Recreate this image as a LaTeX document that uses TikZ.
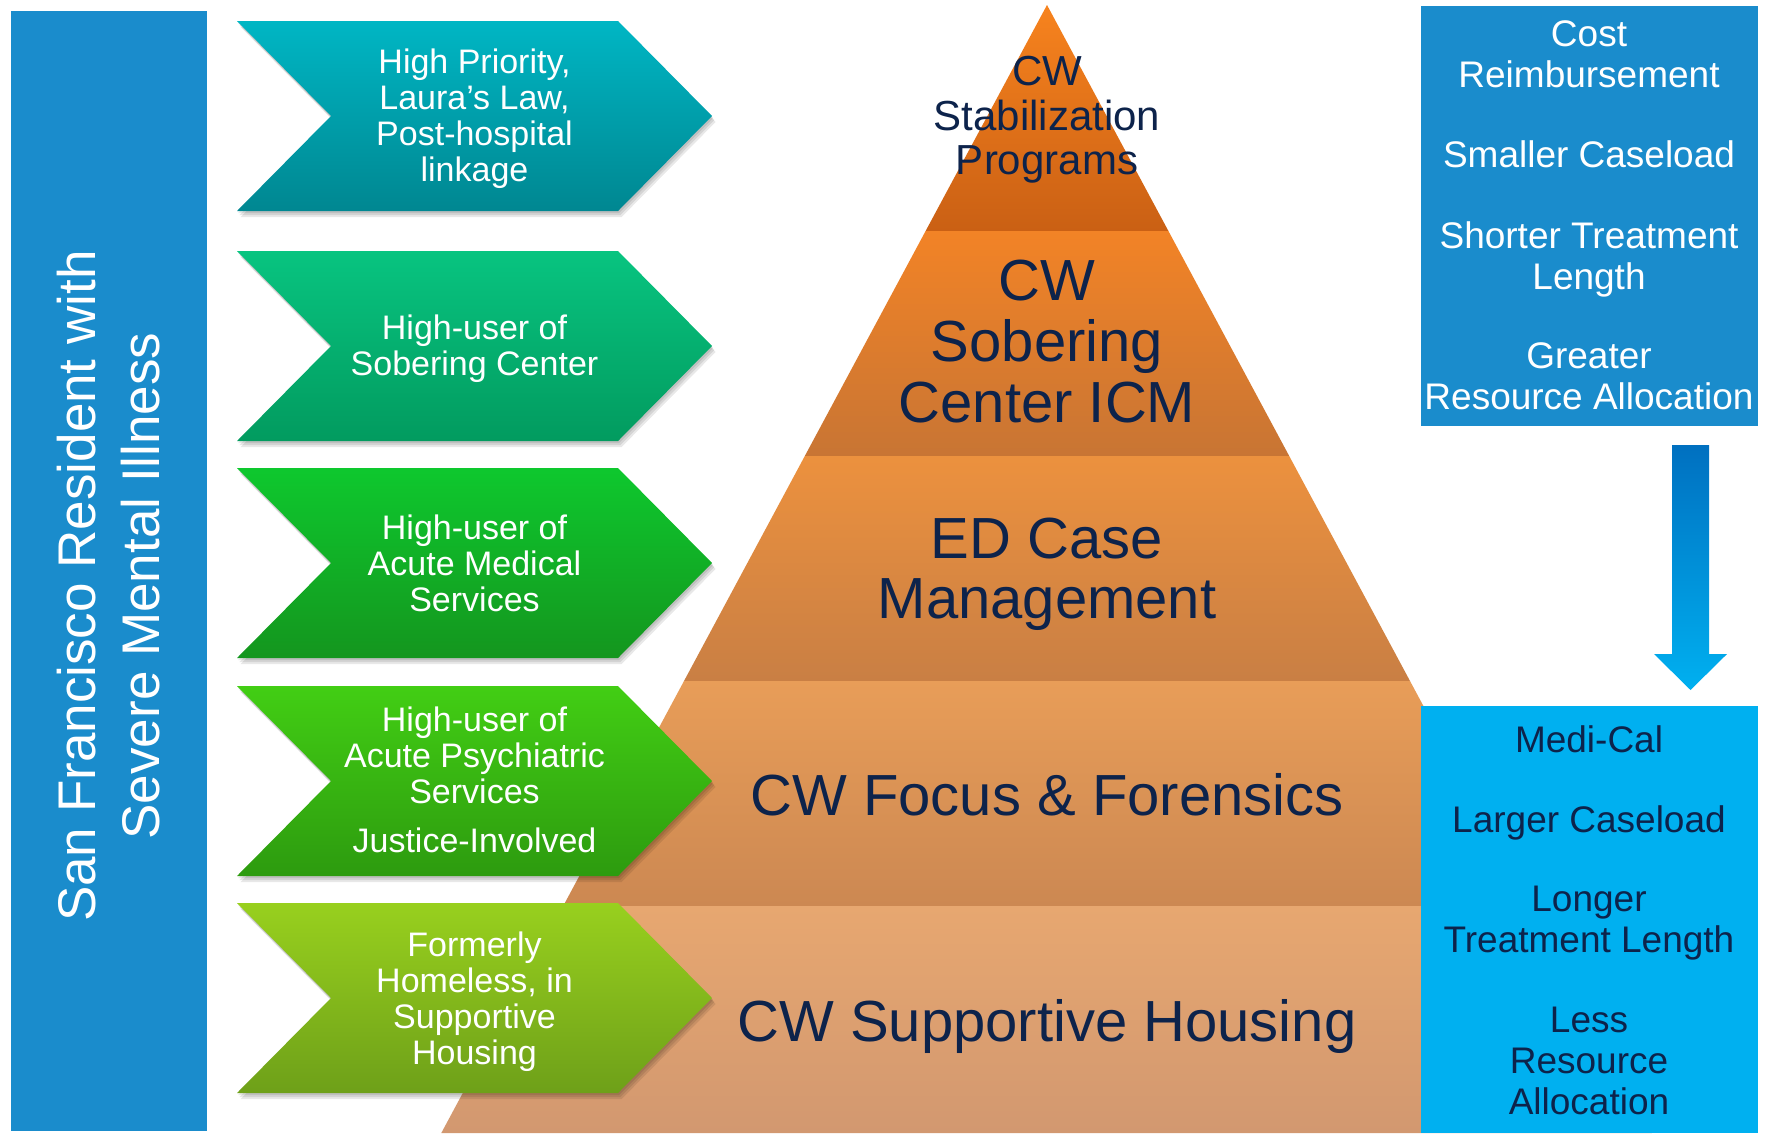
\documentclass[tikz,border=0pt]{standalone}
\usepackage{fontspec}
\setmainfont{Liberation Sans}
\definecolor{barblue}{RGB}{26,140,204}
\definecolor{lightblue}{RGB}{0,176,240}
\definecolor{arrowtop}{RGB}{0,112,192}
\definecolor{navy}{RGB}{13,35,75}
\definecolor{tia}{RGB}{247,131,30}\definecolor{tib}{RGB}{202,96,20}
\definecolor{tiia}{RGB}{242,131,38}\definecolor{tiib}{RGB}{200,117,52}
\definecolor{tiiia}{RGB}{236,145,62}\definecolor{tiiib}{RGB}{201,127,68}
\definecolor{tiva}{RGB}{232,157,88}\definecolor{tivb}{RGB}{204,136,82}
\definecolor{tva}{RGB}{231,167,112}\definecolor{tvb}{RGB}{210,152,112}
\definecolor{cia}{RGB}{0,182,196}\definecolor{cib}{RGB}{0,135,145}
\definecolor{ciia}{RGB}{8,196,128}\definecolor{ciib}{RGB}{2,155,95}
\definecolor{ciiia}{RGB}{14,200,46}\definecolor{ciiib}{RGB}{20,150,30}
\definecolor{civa}{RGB}{66,206,20}\definecolor{civb}{RGB}{45,155,15}
\definecolor{cva}{RGB}{152,208,30}\definecolor{cvb}{RGB}{110,160,25}
\newcommand{\mychev}[3]{%
  \pgfmathsetmacro\yb{#1+190}\pgfmathsetmacro\ym{#1+95}%
  \foreach \s in {2,4,6}{\fill[black,opacity=0.09,shift={(0.6*\s,\s)}] (237,#1) -- (618,#1) -- (712,\ym) -- (618,\yb) -- (237,\yb) -- (331,\ym) -- cycle;}
  \shade[top color=#2,bottom color=#3] (237,#1) -- (618,#1) -- (712,\ym) -- (618,\yb) -- (237,\yb) -- (331,\ym) -- cycle;
}
\begin{document}
\begin{tikzpicture}[x=1pt,y=-1pt,
  chevtext/.style={text=white,align=center,inner sep=0pt,font=\fontsize{34}{36}\selectfont},
  pyrtext/.style={text=navy,align=center,inner sep=0pt},
  boxtext/.style={align=center,inner sep=0pt,font=\fontsize{37}{41}\selectfont}]
\useasboundingbox (0,0) rectangle (1768,1133);
\fill[white] (0,0) rectangle (1768,1133);
% left bar
\fill[barblue] (11,11) rectangle (207,1131);
\node[rotate=90,text=white,align=center,inner sep=0pt,font=\fontsize{53}{64}\selectfont] (resident) at (109,586) {San Francisco Resident with\\Severe Mental Illness};
% pyramid
\shade[top color=tia,bottom color=tib] (1047,5) -- (1168.4,231) -- (925.6,231) -- cycle;
\shade[top color=tiia,bottom color=tiib] (925.6,231) -- (1168.4,231) -- (1289.2,456) -- (804.8,456) -- cycle;
\shade[top color=tiiia,bottom color=tiiib] (804.8,456) -- (1289.2,456) -- (1410,681) -- (684,681) -- cycle;
\shade[top color=tiva,bottom color=tivb] (684,681) -- (1410,681) -- (1530.8,906) -- (563.2,906) -- cycle;
\shade[top color=tva,bottom color=tvb] (563.2,906) -- (1530.8,906) -- (1652.7,1133) -- (441.3,1133) -- cycle;
\node[pyrtext,font=\fontsize{42}{44.5}\selectfont] (stab) at (1047,120) {CW\\Stabilization\\Programs};
\node[pyrtext,font=\fontsize{58}{61}\selectfont] (sober) at (1047,342) {CW\\Sobering\\Center ICM};
\node[pyrtext,font=\fontsize{58}{60}\selectfont] (ed) at (1047,574) {ED Case\\Management};
\node[pyrtext,font=\fontsize{58}{60}\selectfont] (focus) at (1047,795) {CW Focus \& Forensics};
\node[pyrtext,font=\fontsize{58}{60}\selectfont] (housing) at (1047,1026) {CW Supportive Housing};
% chevrons
\mychev{21}{cia}{cib}
\mychev{251}{ciia}{ciib}
\mychev{468}{ciiia}{ciiib}
\mychev{686}{civa}{civb}
\mychev{903}{cva}{cvb}
\node[chevtext] (c1) at (474.5,118.6) {High Priority,\\Laura’s Law,\\Post-hospital\\linkage};
\node[chevtext] (c2) at (474.5,348.6) {High-user of\\Sobering Center};
\node[chevtext] (c3) at (474.5,563) {High-user of\\Acute Medical\\Services};
\node[chevtext] (c4) at (474.5,779.5) {High-user of\\Acute Psychiatric\\Services\\[13pt]Justice-Involved};
\node[chevtext] (c5) at (474.5,1001.6) {Formerly\\Homeless, in\\Supportive\\Housing};
% right boxes
\fill[barblue] (1421,6) rectangle (1758,426);
\fill[lightblue] (1421,706) rectangle (1758,1133);
\node[boxtext,text=white] (cost) at (1589,54) {Cost\\Reimbursement};
\node[boxtext,text=white] (small) at (1589,154) {Smaller Caseload};
\node[boxtext,text=white] (short) at (1589,259.4) {Shorter Treatment\\Length};
\node[boxtext,text=white] (greater) at (1589,376.5) {Greater\\Resource Allocation};
\node[boxtext,text=navy] (medi) at (1589,739) {Medi-Cal};
\node[boxtext,text=navy] (larger) at (1589,823) {Larger Caseload};
\node[boxtext,text=navy] (longer) at (1589,923.4) {Longer\\Treatment Length};
\node[boxtext,text=navy] (less) at (1589,1060.5) {Less\\Resource\\Allocation};
% arrow
\shade[top color=arrowtop,bottom color=lightblue] (1672,445) -- (1709,445) -- (1709,654) -- (1727,654) -- (1690.5,690) -- (1654,654) -- (1672,654) -- cycle;
\end{tikzpicture}
\end{document}
